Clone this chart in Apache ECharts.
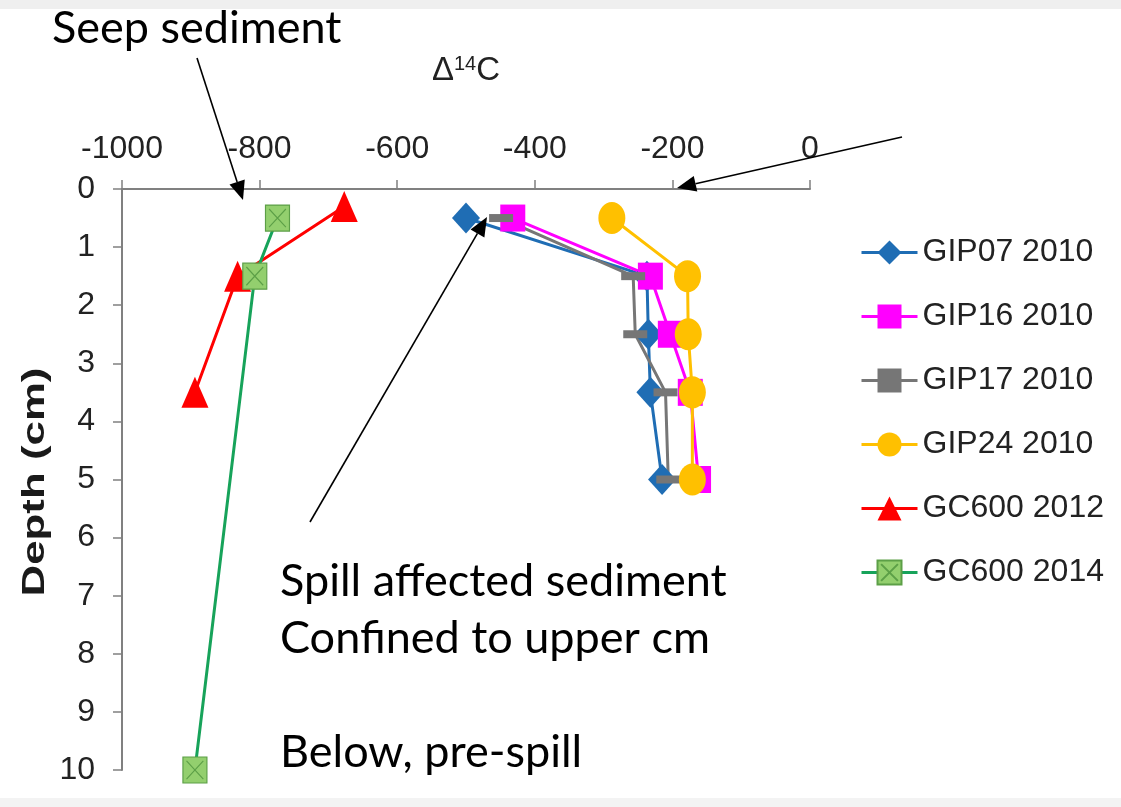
<!DOCTYPE html>
<html>
<head>
<meta charset="utf-8">
<script src="https://cdn.jsdelivr.net/npm/echarts@6/dist/echarts.min.js"></script>
<style>
  html, body { margin: 0; padding: 0; background: #fff; }
  #main { width: 1121px; height: 807px; }
</style>
</head>
<body>
<div id="main"></div>
<script>
// depth (cm) for each core
var depths2010 = [0.5, 1.5, 2.5, 3.5, 5];
var depths2012 = [0.3, 1.5, 3.5];
var depths2014 = [0.5, 1.5, 10];

// Δ14C values
var gip07 = [-500, -237, -235, -232, -215];
var gip16 = [-432, -232, -203, -174, -162];
var gip17 = [-449, -257, -254, -210, -206];
var gip24 = [-288, -178, -177, -171, -171];
var gc600_2012 = [-677, -832, -894];
var gc600_2014 = [-774, -807, -894];

var xTicks = [-1000, -800, -600, -400, -200, 0];
var yTicks = [0, 1, 2, 3, 4, 5, 6, 7, 8, 9, 10];

function pairs(xs, ys) {
    return xs.map(function (v, i) { return [v, ys[i]]; });
}

var chart = echarts.init(document.getElementById("main"));

var font = "'Liberation Sans', Arial, sans-serif";
var noteFont = "Lato, 'Open Sans', sans-serif";

function lineSeries(name, data, color, symbol, size, itemStyle) {
    return {
        name: name,
        type: "line",
        data: data,
        symbol: symbol,
        symbolSize: size,
        showAllSymbol: true,
        lineStyle: { color: color, width: 3 },
        itemStyle: itemStyle || { color: color },
        emphasis: { disabled: true },
    };
}

// arrow = line + filled head
function arrow(x1, y1, x2, y2) {
    var ang = Math.atan2(y2 - y1, x2 - x1);
    var len = 19, half = 8;
    var bx = x2 - len * Math.cos(ang), by = y2 - len * Math.sin(ang);
    var px = -Math.sin(ang) * half, py = Math.cos(ang) * half;
    return [
        {
            type: "line",
            shape: { x1: x1, y1: y1, x2: bx, y2: by },
            style: { stroke: "#000", lineWidth: 1.6 },
            z: 100,
        },
        {
            type: "polygon",
            shape: { points: [[x2, y2], [bx + px, by + py], [bx - px, by - py]] },
            style: { fill: "#000" },
            z: 100,
        },
    ];
}

var graphics = [
    {
        type: "rect",
        shape: { x: 0, y: 0, width: 1121, height: 9 },
        style: { fill: "#efefef" },
    },
    {
        type: "rect",
        shape: { x: 0, y: 798, width: 1121, height: 9 },
        style: { fill: "#f3f3f3" },
    },
    {
        type: "text",
        x: 52,
        y: 3,
        style: { text: "Seep sediment", font: "45px " + noteFont, lineHeight: 50, fill: "#000" },
    },
    {
        type: "text",
        x: 280,
        y: 553,
        style: {
            text: "Spill affected sediment\nConfined to upper cm\n\nBelow, pre-spill",
            font: "45px " + noteFont,
            lineHeight: 57,
            fill: "#000",
        },
    },
    {
        // y-axis title, stretched along its length like the source
        type: "text",
        x: 35,
        y: 482,
        rotation: Math.PI / 2,
        scaleX: 1.37,
        style: {
            text: "Depth (cm)",
            font: "bold 32px " + font,
            fill: "#1a1a1a",
            align: "center",
            verticalAlign: "middle",
        },
    },
]
    .concat(arrow(197, 58, 243, 200))
    .concat(arrow(902, 137, 677, 188))
    .concat(arrow(310, 522, 487, 217));

var option = {
    backgroundColor: "#fff",
    animation: false,
    grid: { left: 122, top: 189, width: 688, height: 581 },
    legend: {
        orient: "vertical",
        left: 855,
        top: 229,
        itemWidth: 56,
        itemHeight: 30,
        itemGap: 27,
        lineStyle: { width: 3 },
        textStyle: { fontFamily: font, fontSize: 32, color: "#222", lineHeight: 37 },
        data: ["GIP07 2010", "GIP16 2010", "GIP17 2010", "GIP24 2010", "GC600 2012", "GC600 2014"],
    },
    xAxis: {
        type: "value",
        position: "top",
        min: xTicks[0],
        max: xTicks[xTicks.length - 1],
        interval: 200,
        name: "{d|Δ}{s|14}{d|C}",
        nameLocation: "middle",
        nameGap: 101,
        nameTextStyle: {
            rich: {
                d: { fontFamily: font, fontSize: 33, color: "#222" },
                s: { fontFamily: font, fontSize: 20, color: "#222", verticalAlign: "top", padding: [0, 0, 14, 0] },
            },
        },
        axisLine: { onZero: false, lineStyle: { color: "#808080", width: 2 } },
        axisTick: { show: true, length: 9, lineStyle: { color: "#808080", width: 1.5 } },
        axisLabel: {
            fontFamily: font, fontSize: 32, color: "#222", margin: 24,
            formatter: function (v) { return String(v); },
        },
        splitLine: { show: false },
    },
    yAxis: {
        type: "value",
        inverse: true,
        min: yTicks[0],
        max: yTicks[yTicks.length - 1],
        interval: 1,
        axisLine: { onZero: false, lineStyle: { color: "#808080", width: 2 } },
        axisTick: { show: true, length: 9, lineStyle: { color: "#808080", width: 1.5 } },
        axisLabel: { fontFamily: font, fontSize: 32, color: "#222", margin: 27 },
        splitLine: { show: false },
    },
    series: [
        lineSeries("GIP07 2010", pairs(gip07, depths2010), "#1f6db4", "diamond", [28, 31]),
        lineSeries("GIP16 2010", pairs(gip16, depths2010), "#ff00ff", "rect", [25, 27]),
        lineSeries("GIP17 2010", pairs(gip17, depths2010), "#767676", "rect", [24, 8]),
        lineSeries("GIP24 2010", pairs(gip24, depths2010), "#ffc000", "circle", [27, 32]),
        lineSeries("GC600 2012", pairs(gc600_2012, depths2012), "#ff0000", "triangle", [27, 31]),
        lineSeries("GC600 2014", pairs(gc600_2014, depths2014), "#17a35a",
            "path://M0,0H10V10H0Z M1.5,1.5L8.5,8.5 M8.5,1.5L1.5,8.5", [24, 26],
            { color: "#93cf6e", borderColor: "#5c9f47", borderWidth: 1.2 }),
    ],
    graphic: graphics,
};

chart.setOption(option);
</script>
</body>
</html>
